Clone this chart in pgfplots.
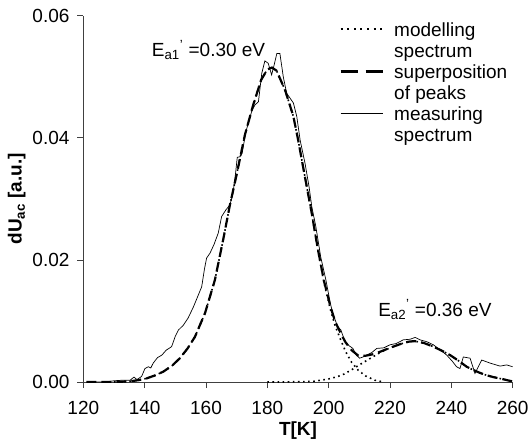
\documentclass[border=0pt]{standalone}
\usepackage{pgfplots}
\pgfplotsset{compat=1.18}
\usepackage{fontspec}
\setmainfont{Liberation Sans}
\begin{document}
\begin{tikzpicture}
\useasboundingbox (-83.3bp,-62bp) rectangle (446.7bp,382bp);
\begin{axis}[
  scale only axis, width=429.4bp, height=366.3bp,
  xmin=120, xmax=260, ymin=0, ymax=0.06,
  axis lines=left,
  axis line style={-, black!75, line width=0.8bp},
  tick align=outside, major tick length=6bp,
  tick style={black!75, line width=0.8bp},
  xtick={120,140,...,260}, ytick={0,0.02,0.04,0.06},
  scaled y ticks=false,
  y tick label style={/pgf/number format/.cd, fixed, fixed zerofill, precision=2, /tikz/.cd},
  /pgf/number format/assume math mode=true,
  tick label style={font=\fontsize{19bp}{22bp}\selectfont},
  xticklabel style={yshift=-9.5bp},
  yticklabel style={xshift=-4.3bp},
  xlabel={\textbf{T[K]}},
  ylabel={\textbf{dU\textsubscript{ac} [a.u.]}},
  label style={font=\fontsize{19bp}{22bp}\selectfont},
  legend style={draw=none, fill=none, at={(0.596,0.989)}, anchor=north west,
    inner sep=0pt, row sep=2bp, font=\fontsize{19bp}{22bp}\selectfont,
    nodes={inner sep=0pt, text height=17bp, text depth=2bp},
    /tikz/every odd column/.append style={column sep=10bp}},
  legend cell align=left,
  legend image code/.code={\draw[#1] (0bp,0bp) -- (42.4bp,0bp);},
]
% measuring spectrum
\addplot[black, line width=0.7bp, forget plot] coordinates {
(122,0.0000)(127,0.0000)(130,0.0002)(133,0.0003)(135.3,0.0003)(136.5,0.0008)
(137.5,0.0004)(139.0,0.0009)(140.1,0.0022)(141.2,0.0025)(142.0,0.0023)(142.8,0.0031)
(144.2,0.0040)(145.6,0.0044)(147.0,0.0052)(148.8,0.0058)(150.0,0.0075)(151.0,0.0085)
(152.6,0.0093)(154.2,0.0105)(155.9,0.0123)(157.3,0.0140)(158.6,0.0156)(159.5,0.0185)
(160.2,0.0203)(161.3,0.0211)(162.6,0.0225)(164.0,0.0244)(165.1,0.0271)(166.5,0.0282)
(167.8,0.0290)(168.8,0.0309)(169.6,0.0340)(170.2,0.0368)(171.1,0.0369)(171.8,0.0375)
(173.0,0.0410)(173.8,0.0424)(175.0,0.0445)(176.0,0.0454)(177.1,0.0459)(178.2,0.0506)
(179.2,0.0526)(180.3,0.0522)(181.4,0.0503)(182.2,0.0519)(183.1,0.0538)(184.1,0.0538)
(185.2,0.0500)(186.3,0.0473)(188.5,0.0457)(189.6,0.0435)(190.7,0.0396)(192.3,0.0358)
(193.6,0.0320)(194.5,0.0287)(195.8,0.0255)(197.4,0.0205)(199.1,0.0167)(200.5,0.0130)
(201.3,0.0113)(202.9,0.0091)(204.0,0.0085)(205.1,0.0069)(206.5,0.0060)(207.9,0.0055)
(209.0,0.0044)(210.1,0.0039)(211.7,0.0042)(212.4,0.0044)(214.0,0.0048)(215.7,0.0055)
(218.0,0.0056)(220.0,0.0061)(222.0,0.0063)(224.3,0.0069)(226.5,0.0070)(228.2,0.0073)
(229.8,0.0069)(232.0,0.0066)(234.1,0.0061)(236.5,0.0052)(238.5,0.0044)(240.3,0.0034)
(241.7,0.0025)(242.8,0.0022)(243.9,0.0041)(246.1,0.0039)(247.7,0.0014)(249.9,0.0036)
(252.6,0.0031)(255.9,0.0026)(258.0,0.0028)(260.0,0.0025)
};
% superposition of peaks
\addplot[black, line width=2.2bp, dash pattern=on 10bp off 5bp, forget plot] coordinates {
(121,0)(130,0)(135,0.0001)(138,0.0003)(140.7,0.0006)(143.5,0.0011)(146.1,0.0017)
(149,0.0027)(151.5,0.0039)(154,0.0055)(156.4,0.0074)(159.7,0.0113)(162.9,0.0167)
(165.6,0.0233)(167.8,0.0290)(170,0.0340)(172.7,0.0405)(175.4,0.0454)(178,0.0495)
(180,0.0512)(181.5,0.0515)(183,0.0510)(185.8,0.0478)(188.5,0.0435)(190.1,0.0395)
(192.3,0.0335)(194.5,0.0276)(196.5,0.0217)(198.5,0.0165)(200.5,0.0125)(202.1,0.0099)
(204,0.0079)(205.5,0.0065)(207.5,0.0052)(209.7,0.0043)(212,0.0043)(215,0.0046)
(218,0.0052)(220,0.0056)(223.3,0.0062)(226,0.0066)(228,0.0067)(231,0.0064)
(234.1,0.0058)(237,0.0051)(239.6,0.0044)(242,0.0036)(245,0.0025)(247,0.0020)
(249.3,0.0015)(251.5,0.0011)(253.7,0.0008)(256.5,0.0005)(259,0.0002)(260,0.0001)
};
% modelling spectrum: peak 1
\addplot[black, line width=1.6bp, dash pattern=on 1.6bp off 3.5bp, forget plot] coordinates {
(130,0.0000)(135,0.0001)(138,0.0003)(140.7,0.0006)(143.5,0.0011)(146.1,0.0017)
(149,0.0027)(151.5,0.0039)(154,0.0055)(156.4,0.0074)(159.7,0.0113)(162.9,0.0167)
(165.6,0.0233)(167.8,0.0290)(170,0.0340)(172.7,0.0405)(175.4,0.0454)(178,0.0495)
(180,0.0512)(181.5,0.0515)(183,0.0510)(185.8,0.0478)(188.5,0.0435)(190.1,0.0395)
(192.3,0.0335)(194.5,0.0275)(196.5,0.0215)(198.5,0.0162)(200.5,0.0120)(202.1,0.0092)
(204,0.0068)(205.5,0.0050)(207.5,0.0032)(209.7,0.0019)(212,0.0010)(215,0.0003)(218,0.0000)
};
% modelling spectrum: peak 2
\addplot[black, line width=1.6bp, dash pattern=on 1.6bp off 3.5bp, forget plot] coordinates {
(180,0.0000)(185,0.0000)(195,0.0001)(200,0.0005)(203,0.0009)(205,0.0013)(207.5,0.0020)
(210,0.0028)(213,0.0037)(216.7,0.0048)(220,0.0056)(223.3,0.0062)(226,0.0066)
(228,0.0067)(231,0.0064)(234.1,0.0058)(237,0.0051)(239.6,0.0044)(242,0.0036)
(245,0.0025)(247,0.0020)(249.3,0.0015)(251.5,0.0011)(253.7,0.0008)(256.5,0.0005)
(259,0.0002)(260,0.0001)
};
\addlegendimage{black, line width=2bp, dash pattern=on 2bp off 4.6bp}
\addlegendentry{modelling}
\addlegendimage{empty legend}
\addlegendentry{spectrum}
\addlegendimage{black, line width=2.4bp, dash pattern=on 17bp off 8bp}
\addlegendentry{superposition}
\addlegendimage{empty legend}
\addlegendentry{of peaks}
\addlegendimage{black, line width=0.7bp}
\addlegendentry{measuring}
\addlegendimage{empty legend}
\addlegendentry{spectrum}
\node[anchor=base west, inner sep=0pt, font=\fontsize{19bp}{22bp}\selectfont]
  at (axis cs:142.3,0.0533) {E\textsubscript{a1}\textsuperscript{'}\ =0.30 eV};
\node[anchor=base west, inner sep=0pt, font=\fontsize{19bp}{22bp}\selectfont]
  at (axis cs:216.1,0.0108) {E\textsubscript{a2}\textsuperscript{'}\ =0.36 eV};
\end{axis}
\end{tikzpicture}
\end{document}
